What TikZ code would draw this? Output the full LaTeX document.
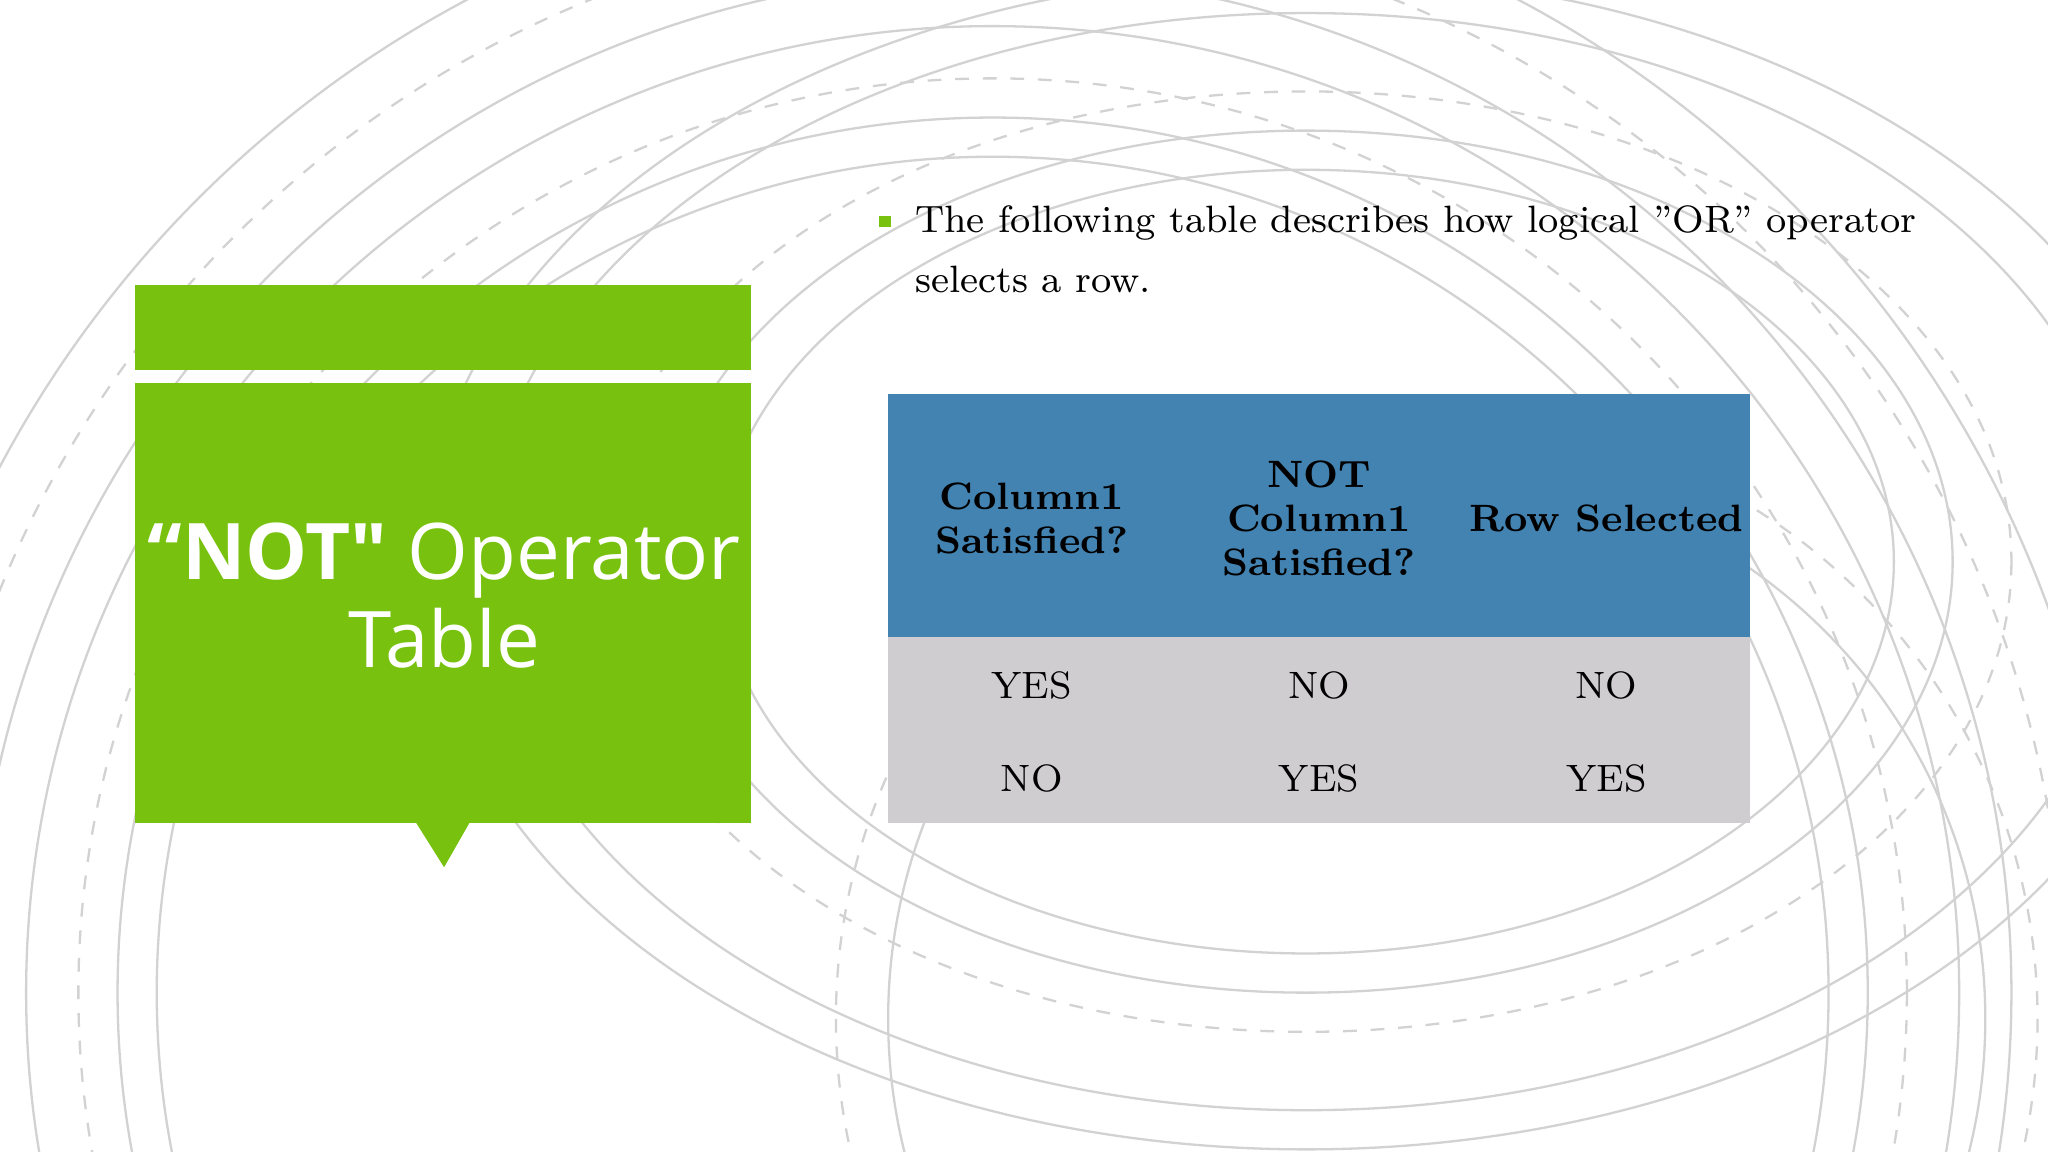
\documentclass[tikz,border=0pt]{standalone}
\usepackage{fontspec}
\newfontfamily\titlefont{Open Sans}
\begin{document}
\begin{tikzpicture}[x=0.01cm,y=-0.01cm,
  arc/.style={draw=gray!35,line width=0.5pt},
  darc/.style={arc,dashed},
  body/.style={font=\fontsize{8.3}{10}\selectfont,anchor=west,inner sep=0},
  hdr/.style={font=\fontsize{8.3}{9.6}\selectfont\bfseries,align=center},
  cell/.style={font=\fontsize{8.3}{10}\selectfont}]
\useasboundingbox (0,0) rectangle (1568,882);
\fill[white] (0,0) rectangle (1568,882);
\begin{scope}
\clip (0,0) rectangle (1568,882);
\foreach \r/\s in {640/arc,670/arc,700/darc,740/arc,780/arc,820/darc,860/arc}{
  \draw[\s] (760,760) circle (\r);}
\foreach \r/\s in {300/arc,330/arc,360/darc,420/arc,450/arc}{
  \draw[\s] (1000,430) circle [x radius=\r*1.5, y radius=\r];}
\foreach \r/\s in {420/arc,460/darc}{
  \draw[\s] (1100,780) circle (\r);}
\end{scope}
% green callout
\definecolor{gr}{HTML}{78C20F}
\fill[gr] (103,218) rectangle (575,283);
\fill[gr] (103,293) rectangle (575,630);
\fill[gr] (318,629) -- (360,629) -- (340,664) -- cycle;
\node[text=white,align=center,font=\titlefont\fontsize{17}{19}\selectfont] (title) at (340,456)
  {\textbf{“NOT"} Operator\\Table};
% bullet text
\fill[gr] (673,165) rectangle (682,174) ;
\node[body] (l1) at (700,171) {The following table describes how logical "OR" operator};
\node[body] (l2) at (700,214) {selects a row.};
% table
\definecolor{hd}{HTML}{4383B1}
\definecolor{rw}{HTML}{CFCDD0}
\fill[hd] (680,302) rectangle (1340,488);
\fill[rw] (680,488) rectangle (1340,630);
\node[hdr] (h1) at (790,397) {Column1\\Satisfied?};
\node[hdr] (h2) at (1010,397) {NOT\\Column1\\Satisfied?};
\node[hdr] (h3) at (1230,397) {Row Selected};
\node[cell] (a1) at (790,525) {YES};
\node[cell] (a2) at (1010,525) {NO};
\node[cell] (a3) at (1230,525) {NO};
\node[cell] (b1) at (790,596) {NO};
\node[cell] (b2) at (1010,596) {YES};
\node[cell] (b3) at (1230,596) {YES};
\end{tikzpicture}
\end{document}
